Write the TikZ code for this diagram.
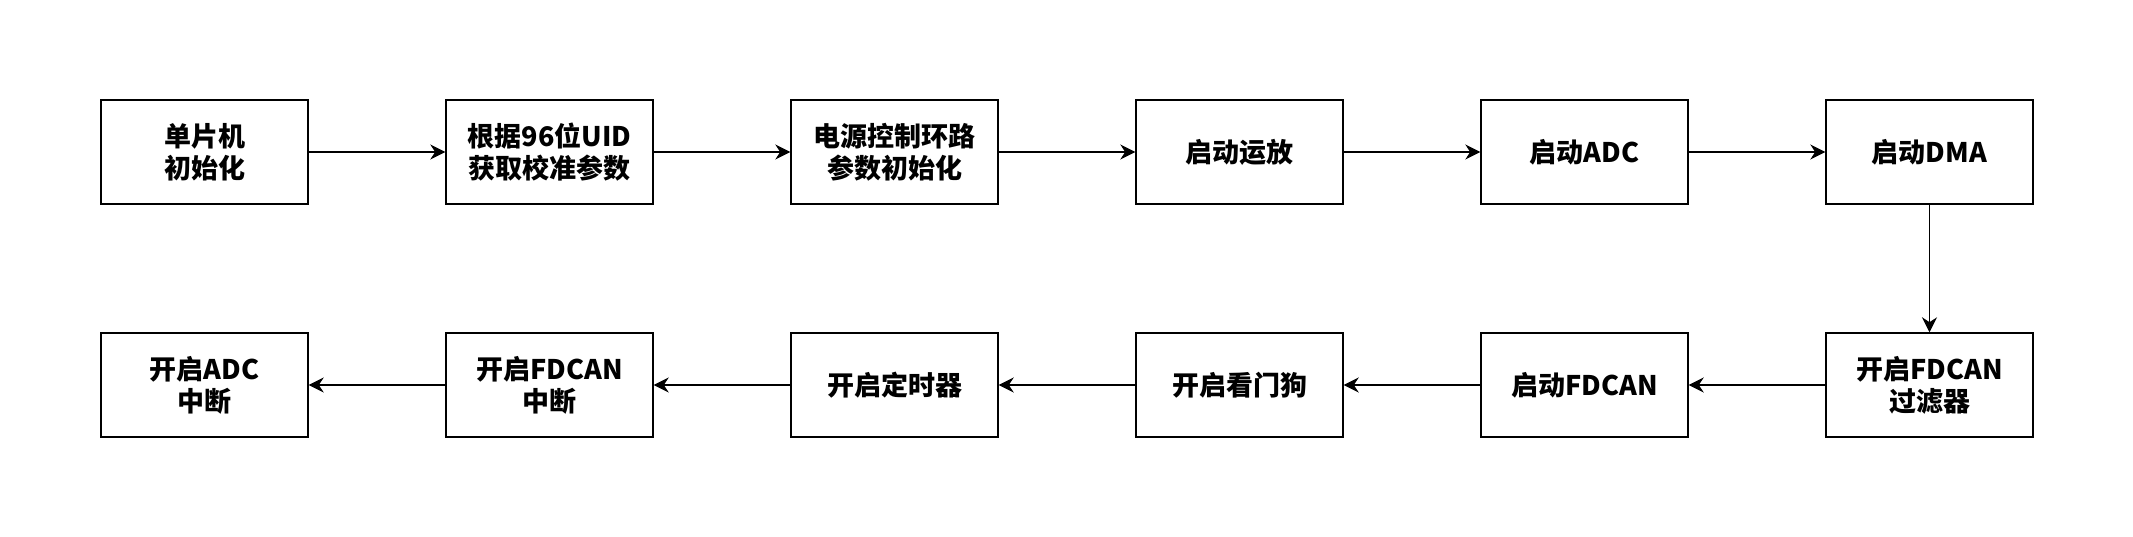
\documentclass[tikz,border=0pt]{standalone}
\usepackage{fontspec}
\setmainfont{Noto Sans CJK SC}
\usetikzlibrary{arrows.meta}
\begin{document}
\begin{tikzpicture}[x=1pt, y=-1pt, every node/.style={ draw, rectangle, line width=1.4pt, minimum width=207pt, minimum height=104pt, align=center, inner sep=0pt, font=\fontsize{27}{32}\selectfont\bfseries }]
		\useasboundingbox (0,0) rectangle (2133,537);
		\node (A) at (204.5,152) {单片机\\初始化};
		\node (B) at (549.5,152) {根据96位UID\\获取校准参数};
		\node (C) at (894.5,152) {电源控制环路\\参数初始化};
		\node (D) at (1239.5,152) {启动运放};
		\node (E) at (1584.5,152) {启动ADC};
		\node (F) at (1929.5,152) {启动DMA};

		\node (G) at (1929.5,385) {开启FDCAN\\过滤器};
		\node (H) at (1584.5,385) {启动FDCAN};
		\node (I) at (1239.5,385) {开启看门狗};
		\node (J) at (894.5,385) {开启定时器};
		\node (K) at (549.5,385) {开启FDCAN\\中断};
		\node (L) at (204.5,385) {开启ADC\\中断};
		\draw[line width=1.4pt, -{Stealth[length=15pt, width=15pt]}] (A) -- (B);
		\draw[line width=1.4pt, -{Stealth[length=15pt, width=15pt]}] (B) -- (C);
		\draw[line width=1.4pt, -{Stealth[length=15pt, width=15pt]}] (C) -- (D);
		\draw[line width=1.4pt, -{Stealth[length=15pt, width=15pt]}] (D) -- (E);
		\draw[line width=1.4pt, -{Stealth[length=15pt, width=15pt]}] (E) -- (F);
		\draw[line width=1.4pt, -{Stealth[length=15pt, width=15pt]}] (F) -- (G);
		\draw[line width=1.4pt, -{Stealth[length=15pt, width=15pt]}] (G) -- (H);
		\draw[line width=1.4pt, -{Stealth[length=15pt, width=15pt]}] (H) -- (I);
		\draw[line width=1.4pt, -{Stealth[length=15pt, width=15pt]}] (I) -- (J);
		\draw[line width=1.4pt, -{Stealth[length=15pt, width=15pt]}] (J) -- (K);
		\draw[line width=1.4pt, -{Stealth[length=15pt, width=15pt]}] (K) -- (L);
	\end{tikzpicture}
\end{document}
